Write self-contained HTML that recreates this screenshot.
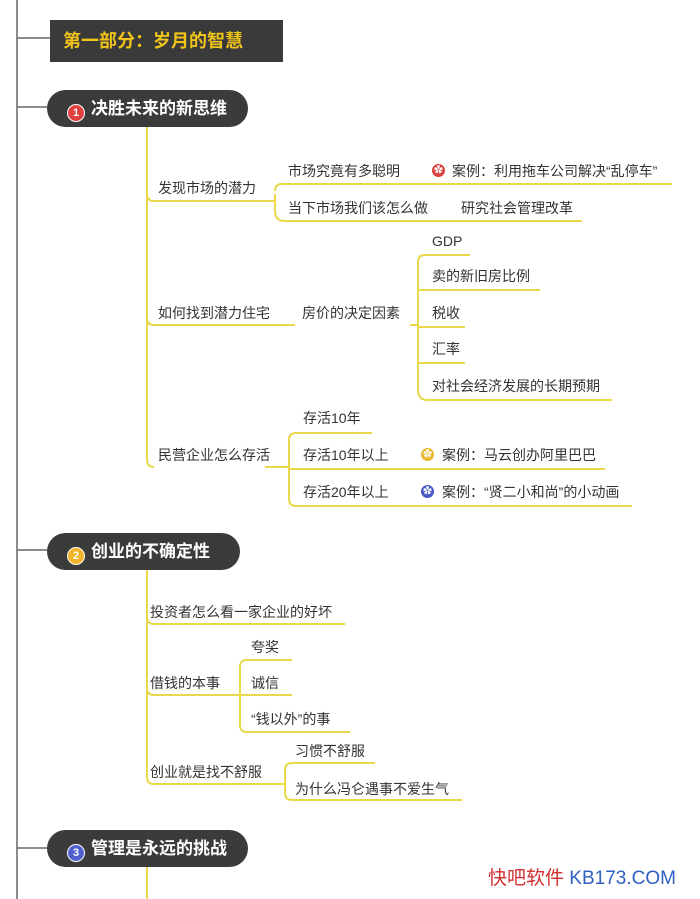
<!DOCTYPE html>
<html><head><meta charset="utf-8"><style>
body{margin:0;width:700px;height:899px;background:#fff;position:relative;overflow:hidden;font-family:"Liberation Sans","Noto Sans CJK SC",sans-serif;}
.t{position:absolute;font-size:14px;color:#333;white-space:nowrap;line-height:16px;}
.pill{position:absolute;left:47px;height:37px;background:#3b3b3b;border-radius:19px;color:#fff;font-weight:bold;font-size:17px;line-height:37px;padding-left:20px;box-sizing:border-box;}
.ic{display:inline-block;width:16px;height:16px;border-radius:50%;color:#fff;font-size:11px;line-height:16px;text-align:center;margin-right:6px;vertical-align:-2px;border:1px solid #fff;}
.st{position:absolute;width:13px;height:13px;border-radius:50%;color:#fff;font-size:9px;line-height:13px;text-align:center;}
</style></head><body>
<svg width="700" height="899" style="position:absolute;left:0;top:0">
<g fill="none" stroke="#666" stroke-width="1.5">
<path d="M17 0V899M17 38H50M17 107H47M17 550H47M17 848H47"/>
</g>
<g fill="none" stroke="#e8d84a" stroke-width="2">
<path d="M147 127V460q0 7 7 7M147 194q0 7 7 7H265M147 318q0 7 7 7H295"/>
<path d="M265 201H275M275 191q0-7 7-7H405M275 194V211q0 10 10 10H445"/>
<path d="M280 184H672M445 221H582"/>
<path d="M410 325H418M418 262q0-7 7-7H470M418 262V390q0 10 10 10H612M418 290H540M418 327H465M418 363H465"/>
<path d="M265 467H289M289 440q0-7 7-7H372M289 440V499q0 7 7 7H400M289 469H605M400 506H632"/>
<path d="M147 570V777q0 7 7 7H280M147 617q0 7 7 7H345M147 688q0 7 7 7H240"/>
<path d="M240 667q0-7 7-7H292M240 667V725q0 7 7 7H350M240 695H292"/>
<path d="M280 784H285M285 770q0-7 7-7H375M285 770V793q0 7 7 7H462"/>
<path d="M147 867V899"/>
</g>
</svg>
<div style="position:absolute;left:50px;top:20px;width:233px;height:42px;background:#3a3a3a;color:#f0c419;font-weight:bold;font-size:18px;line-height:42px;padding-left:13px;box-sizing:border-box;">第一部分：岁月的智慧</div>
<div class="pill" style="top:90px;width:201px;"><span class="ic" style="background:#e04040">1</span>决胜未来的新思维</div>
<div class="pill" style="top:533px;width:193px;"><span class="ic" style="background:#f0b429">2</span>创业的不确定性</div>
<div class="pill" style="top:830px;width:201px;"><span class="ic" style="background:#5060d0">3</span>管理是永远的挑战</div>

<div class="t" style="left:158px;top:180px">发现市场的潜力</div>
<div class="t" style="left:158px;top:305px">如何找到潜力住宅</div>
<div class="t" style="left:158px;top:447px">民营企业怎么存活</div>
<div class="t" style="left:288px;top:163px">市场究竟有多聪明</div>
<div class="t" style="left:288px;top:200px">当下市场我们该怎么做</div>
<div class="st" style="left:432px;top:164px;background:#d84040">✿</div>
<div class="t" style="left:452px;top:163px">案例：利用拖车公司解决“乱停车”</div>
<div class="t" style="left:461px;top:200px">研究社会管理改革</div>
<div class="t" style="left:302px;top:305px">房价的决定因素</div>
<div class="t" style="left:432px;top:233px">GDP</div>
<div class="t" style="left:432px;top:268px">卖的新旧房比例</div>
<div class="t" style="left:432px;top:305px">税收</div>
<div class="t" style="left:432px;top:341px">汇率</div>
<div class="t" style="left:432px;top:378px">对社会经济发展的长期预期</div>
<div class="t" style="left:303px;top:410px">存活10年</div>
<div class="t" style="left:303px;top:447px">存活10年以上</div>
<div class="t" style="left:303px;top:484px">存活20年以上</div>
<div class="st" style="left:421px;top:448px;background:#e8b830">✿</div>
<div class="t" style="left:442px;top:447px">案例：马云创办阿里巴巴</div>
<div class="st" style="left:421px;top:485px;background:#4858c8">✿</div>
<div class="t" style="left:442px;top:484px">案例：“贤二小和尚”的小动画</div>

<div class="t" style="left:150px;top:604px">投资者怎么看一家企业的好坏</div>
<div class="t" style="left:150px;top:675px">借钱的本事</div>
<div class="t" style="left:251px;top:639px">夸奖</div>
<div class="t" style="left:251px;top:675px">诚信</div>
<div class="t" style="left:251px;top:711px">“钱以外”的事</div>
<div class="t" style="left:150px;top:764px">创业就是找不舒服</div>
<div class="t" style="left:295px;top:743px">习惯不舒服</div>
<div class="t" style="left:295px;top:781px">为什么冯仑遇事不爱生气</div>

<div style="position:absolute;left:488px;top:863px;font-size:19px;white-space:nowrap"><span style="color:#d03030">快吧软件</span> <span style="color:#3060c0">KB173.COM</span></div>
</body></html>
